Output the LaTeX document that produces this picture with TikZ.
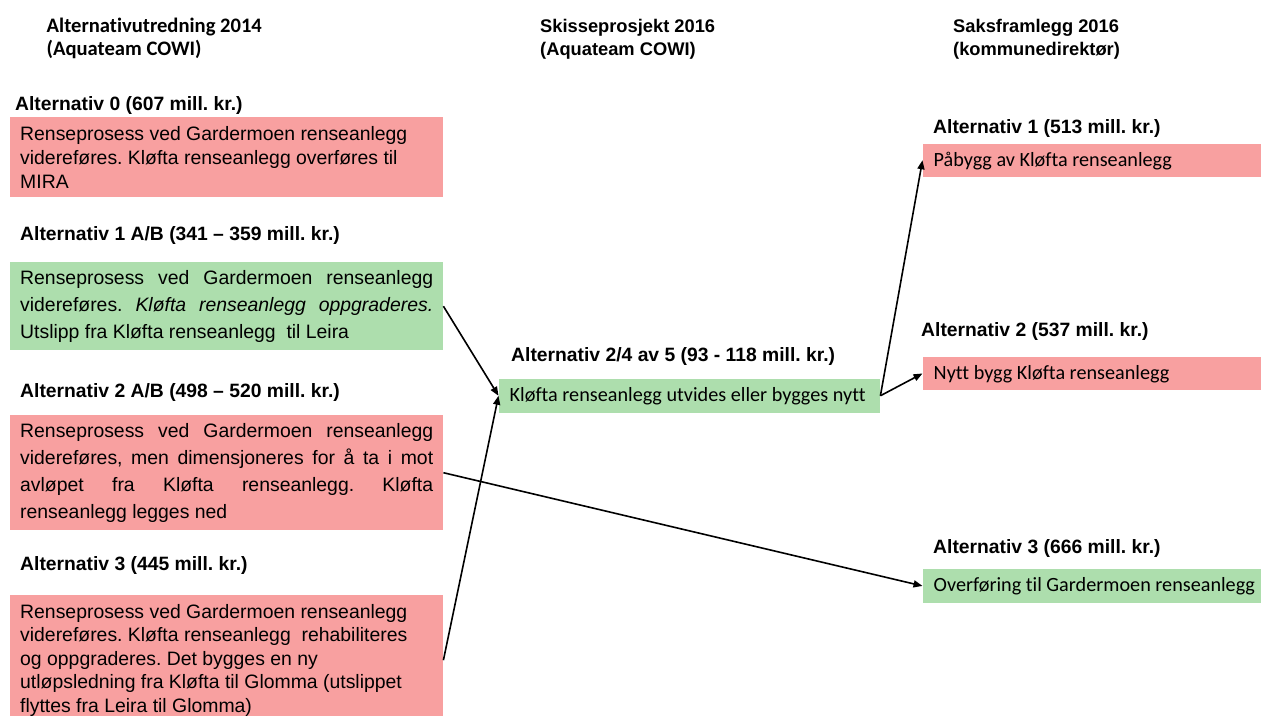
\documentclass[tikz,border=0pt]{standalone}
\usepackage{fontspec}
\setmainfont{Liberation Sans}
\newfontfamily\boxfont[Ligatures=NoCommon]{Carlito}
\usetikzlibrary{arrows.meta}
\definecolor{redfill}{HTML}{F8A0A0}
\definecolor{greenfill}{HTML}{ADDEAD}
% use the font's own interword spacing inside aligned nodes
\newcommand\natsp{\spaceskip=0pt\relax\xspaceskip=0pt\relax}
% one fully justified line of a box
\newcommand\jline[1]{\makebox[413pt][s]{\natsp#1}}
% one line of text in a single-line box
\newcommand\oneline[1]{\mbox{\natsp#1}}
\tikzset{
  heading/.style={anchor=north west, inner sep=0pt, align=left},
  altlabel/.style={anchor=base west, inner sep=0pt, font=\fontsize{19.3}{23}\selectfont\bfseries},
  leftbox/.style={anchor=north west, inner xsep=10pt, inner ysep=2pt, text width=413pt, minimum width=433pt, align=left},
  smallbox/.style={anchor=north west, inner xsep=11pt, inner ysep=0pt, minimum height=33.5pt, text height=15pt, text depth=3pt, align=left, font=\boxfont\fontsize{20.2}{24}\selectfont},
  arr/.style={line width=1.6pt, -{Triangle[length=9pt,width=7pt]}}
}
\begin{document}
\frenchspacing
\begin{tikzpicture}[x=1pt,y=-1pt]
\useasboundingbox (0,0) rectangle (1261,715);

% column headings
\node[heading, font=\boxfont\fontsize{20.6}{23.3}\selectfont\bfseries] (h1) at (46.5,17.5)
  {\natsp Alternativutredning 2014\\\natsp(Aquateam COWI)};
\node[heading, font=\fontsize{18.3}{23.3}\selectfont\bfseries] (h2) at (540,18.6)
  {\natsp Skisseprosjekt 2016\\\natsp(Aquateam COWI)};
\node[heading, font=\fontsize{18.3}{23.3}\selectfont\bfseries] (h3) at (953,18.6)
  {\natsp Saksframlegg 2016\\(kommunedirektør)};

% left column: alternatives from 2014
\node[altlabel] (l0) at (15,110) {Alternativ 0 (607 mill. kr.)};
\node[leftbox, fill=redfill, minimum height=80pt, font=\fontsize{19.4}{24}\selectfont] (b0) at (10,117)
  {\natsp Renseprosess ved Gardermoen renseanlegg\\\natsp videreføres. Kløfta renseanlegg overføres til\\MIRA};

\node[altlabel] (l1) at (20,240) {Alternativ 1 A/B (341 – 359 mill. kr.)};
\node[leftbox, fill=greenfill, minimum height=88pt, font=\fontsize{19.4}{26.7}\selectfont] (b1) at (10,262)
  {\jline{Renseprosess ved Gardermoen renseanlegg}\\[0.5pt]
   \jline{videreføres. \textit{Kløfta renseanlegg oppgraderes.}}\\[0.5pt]
   \natsp Utslipp fra Kløfta renseanlegg\ \ til Leira};

\node[altlabel] (l2) at (20,397.3) {Alternativ 2 A/B (498 – 520 mill. kr.)};
\node[leftbox, fill=redfill, minimum height=115pt, font=\fontsize{19.4}{26.9}\selectfont] (b2) at (10,415)
  {\jline{Renseprosess ved Gardermoen renseanlegg}\\
   \jline{videreføres, men dimensjoneres for å ta i mot}\\
   \jline{avløpet fra Kløfta renseanlegg. Kløfta}\\
   \natsp renseanlegg legges ned};

\node[altlabel] (l3) at (20,570.7) {Alternativ 3 (445 mill. kr.)};
\node[leftbox, fill=redfill, minimum height=130pt, font=\fontsize{19.4}{23.6}\selectfont] (b3) at (10,595)
  {\natsp Renseprosess ved Gardermoen renseanlegg\\\natsp videreføres. Kløfta renseanlegg\ \ rehabiliteres\\\natsp og oppgraderes. Det bygges en ny\\\natsp utløpsledning fra Kløfta til Glomma (utslippet\\\natsp flyttes fra Leira til Glomma)};

% middle column: sketch project 2016
\node[altlabel] (lm) at (511,361.7) {Alternativ 2/4 av 5 (93 - 118 mill. kr.)};
\node[smallbox, fill=greenfill, minimum width=381.5pt, text width=359.5pt] (bm) at (498.5,378.8)
  {\oneline{Kløfta renseanlegg utvides eller bygges nytt}};

% right column: case presentation 2016
\node[altlabel] (r1) at (933,133.3) {Alternativ 1 (513 mill. kr.)};
\node[smallbox, fill=redfill, minimum width=339pt, text width=317pt] (c1) at (922.5,143.3)
  {\oneline{Påbygg av Kløfta renseanlegg}};

\node[altlabel] (r2) at (921,336.7) {Alternativ 2 (537 mill. kr.)};
\node[smallbox, fill=redfill, minimum width=339pt, text width=317pt] (c2) at (922.5,356.5)
  {\oneline{Nytt bygg Kløfta renseanlegg}};

\node[altlabel] (r3) at (933,553.3) {Alternativ 3 (666 mill. kr.)};
\node[smallbox, fill=greenfill, minimum width=339pt, text width=317pt] (c3) at (922.5,569)
  {\oneline{Overføring til Gardermoen renseanlegg}};

% connectors
\draw[arr] (b1.east) -- (bm.west);
\draw[arr] (b3.east) -- (bm.west);
\draw[arr] (b2.east) -- (c3.west);
\draw[arr] (bm.east) -- (c1.west);
\draw[arr] (bm.east) -- (c2.west);
\end{tikzpicture}
\end{document}
